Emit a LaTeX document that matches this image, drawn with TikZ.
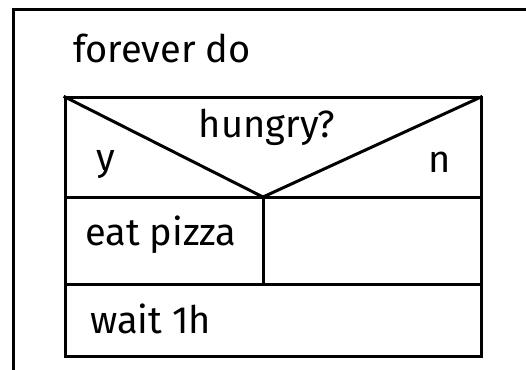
\documentclass[tikz,border=0pt]{standalone}
\usepackage{fontspec}
\setmainfont{Fira Sans}
\begin{document}
\begin{tikzpicture}[x=1pt,y=-1pt,
  frame/.style={line width=3pt,line cap=rect},
  label/.style={inner sep=0pt,anchor=base west,font=\fontsize{38}{44}\selectfont}]
\useasboundingbox (0,0) rectangle (526,369);
% outer loop frame
\draw[frame] (13,369) -- (13,10) -- (526,10);
% corners of the loop body
\coordinate (tl) at (65,97);
\coordinate (tr) at (481,97);
\coordinate (bl) at (65,356);
\coordinate (br) at (481,356);
\coordinate (apex) at (263,197);
\coordinate (hl) at (65,197);
\coordinate (hr) at (481,197);
\coordinate (ml) at (65,284);
\coordinate (mr) at (481,284);
\coordinate (split) at (263,284);
% body outline
\draw[frame] (tl) rectangle (br);
% decision header
\draw[frame] (tl) -- (apex) -- (tr);
\draw[frame] (hl) -- (hr);
\draw[frame] (apex) -- (split);
\draw[frame] (ml) -- (mr);
% texts
\node[label] (loop) at (73,62) {forever do};
\node[label,anchor=base] (cond) at (267,137) {hungry?};
\node[label] (yes) at (96,170) {y};
\node[label] (no) at (428,172) {n};
\node[label] (eat) at (85,245) {eat pizza};
\node[label] (wait) at (90,333) {wait 1h};
\end{tikzpicture}
\end{document}
